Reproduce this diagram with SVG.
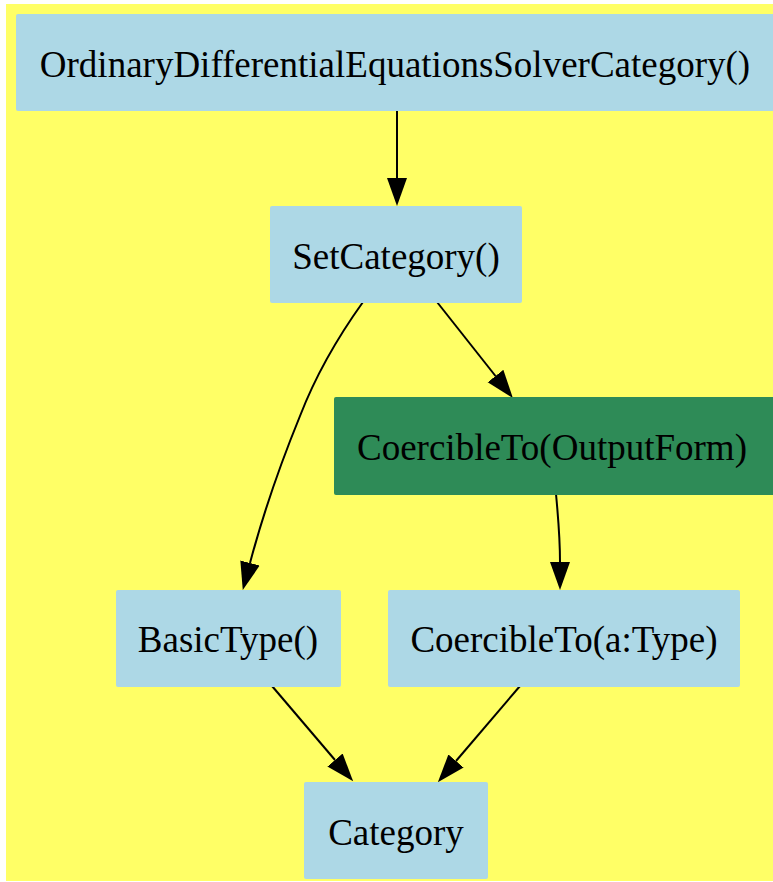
<svg xmlns="http://www.w3.org/2000/svg" width="773" height="882" viewBox="0 0 773 882">
<style>
.n{fill:#add8e6}
.g{fill:#2e8b57}
.t{font-family:"Liberation Serif","Times New Roman",serif;font-size:37px;fill:#000;text-anchor:middle}
.e{fill:none;stroke:#000;stroke-width:2}
</style>
<defs>
<marker id="ah" markerUnits="userSpaceOnUse" markerWidth="30" markerHeight="22" viewBox="0 -11 30 22" refX="0" refY="0" orient="auto">
<path d="M0,-10 L28,0 L0,10 z" fill="#000"/>
</marker>
</defs>
<rect x="6" y="4" width="767" height="877" fill="#ffff66"/>
<g id="edges">
<path class="e" d="M397,111 L397,178" marker-end="url(#ah)"/>
<path class="e" d="M437,302 L495.5,376" marker-end="url(#ah)"/>
<path class="e" d="M363,302 C330,348 312,385 300,416 C282,460 262,518 250,563" marker-end="url(#ah)"/>
<path class="e" d="M556,494 C558,515 560,538 560,562" marker-end="url(#ah)"/>
<path class="e" d="M272,686 L335,760" marker-end="url(#ah)"/>
<path class="e" d="M520,686 L456,761" marker-end="url(#ah)"/>
</g>
<g id="ODESC">
<rect class="n" x="16" y="14" width="761" height="97" rx="2"/>
<text class="t" x="395" y="77">OrdinaryDifferentialEquationsSolverCategory()</text>
</g>
<g id="SetCategory">
<rect class="n" x="270" y="206" width="252" height="97" rx="2"/>
<text class="t" x="396" y="269">SetCategory()</text>
</g>
<g id="CoercibleToOutputForm">
<rect class="g" x="334" y="397" width="443" height="98" rx="2"/>
<text class="t" x="552" y="460">CoercibleTo(OutputForm)</text>
</g>
<g id="BasicType">
<rect class="n" x="116" y="590" width="225" height="97" rx="2"/>
<text class="t" x="228" y="652">BasicType()</text>
</g>
<g id="CoercibleToType">
<rect class="n" x="388" y="590" width="352" height="97" rx="2"/>
<text class="t" x="564" y="652">CoercibleTo(a:Type)</text>
</g>
<g id="Category">
<rect class="n" x="304" y="782" width="184" height="97" rx="2"/>
<text class="t" x="396" y="845">Category</text>
</g>
</svg>
